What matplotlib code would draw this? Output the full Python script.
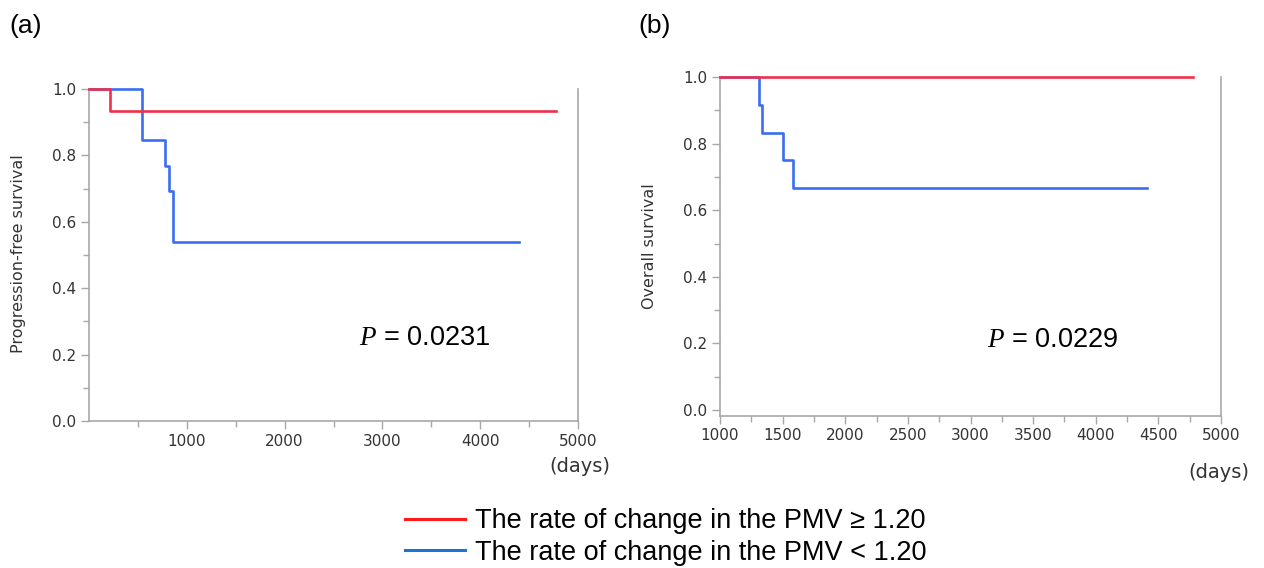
import matplotlib
matplotlib.use("Agg")
import matplotlib.pyplot as plt
from matplotlib.lines import Line2D
from matplotlib.ticker import MultipleLocator, FixedLocator

# ---- data ----
pfs_high_days = [0, 215, 4780]
pfs_high_surv = [1.0, 0.933, 0.933]
pfs_low_days = [0, 545, 779, 819, 855, 4400]
pfs_low_surv = [1.0, 0.846, 0.769, 0.692, 0.538, 0.538]

os_high_days = [1000, 4780]
os_high_surv = [1.0, 1.0]
os_low_days = [1000, 1310, 1332, 1503, 1581, 4406]
os_low_surv = [1.0, 0.917, 0.833, 0.75, 0.667, 0.667]

legend_labels = ["The rate of change in the PMV \u2265 1.20",
                 "The rate of change in the PMV < 1.20"]
p_texts = ["0.0231", "0.0229"]
ylabels = ["Progression-free survival", "Overall survival"]
panel_tags = ["(a)", "(b)"]

plt.rcParams['font.family'] = ['DejaVu Sans']
plt.rcParams['mathtext.fontset'] = 'custom'
plt.rcParams['mathtext.it'] = 'Liberation Serif:italic'

RED = '#ee3049'
BLUE = '#3a6ef2'
SPINE = '#a8a8a8'
TICKC = '#333333'

W, H = 1264, 568
fig = plt.figure(figsize=(W / 100, H / 100), dpi=100)

def frac(l, t, r, b):
    return [l / W, 1 - b / H, (r - l) / W, (b - t) / H]

axA = fig.add_axes(frac(89, 89, 578, 421))
axB = fig.add_axes(frac(720, 77, 1221, 416))

def style(ax):
    ax.spines['top'].set_visible(False)
    for s in ['left', 'bottom', 'right']:
        ax.spines[s].set_color(SPINE)
        ax.spines[s].set_linewidth(1.2)
    ax.tick_params(which='major', length=6, width=1.0, color=SPINE,
                   labelsize=11, labelcolor=TICKC, pad=3)
    ax.tick_params(which='minor', length=4, width=1.0, color=SPINE)
    ax.tick_params(axis='y', which='both', right=False)
    ax.set_yticks([0.0, 0.2, 0.4, 0.6, 0.8, 1.0])
    ax.yaxis.set_minor_locator(MultipleLocator(0.1))
    ax.set_yticklabels(['0.0', '0.2', '0.4', '0.6', '0.8', '1.0'])

# Panel (a)
axA.step(pfs_high_days, pfs_high_surv, where='post', color=RED, lw=1.9, clip_on=False, zorder=3)
axA.step(pfs_low_days, pfs_low_surv, where='post', color=BLUE, lw=1.9, clip_on=False, zorder=2)
axA.set_xlim(0, 5000)
axA.set_ylim(0, 1.0)
style(axA)
axA.set_xticks([1000, 2000, 3000, 4000, 5000])
axA.xaxis.set_minor_locator(FixedLocator([500, 1500, 2500, 3500, 4500]))

# Panel (b)
axB.step(os_high_days, os_high_surv, where='post', color=RED, lw=1.9, clip_on=False, zorder=3)
axB.step(os_low_days, os_low_surv, where='post', color=BLUE, lw=1.9, clip_on=False, zorder=2)
axB.set_xlim(1000, 5000)
axB.set_ylim(-0.018, 1.0)
style(axB)
axB.set_xticks([1000, 1500, 2000, 2500, 3000, 3500, 4000, 4500, 5000])
axB.xaxis.set_minor_locator(FixedLocator([1250, 1750, 2250, 2750, 3250, 3750, 4250, 4750]))

# y labels
fig.text(19 / W, 1 - 254 / H, ylabels[0], rotation=90, ha='center', va='center',
         fontsize=11.5, color=TICKC)
fig.text(649 / W, 1 - 246 / H, ylabels[1], rotation=90, ha='center', va='center',
         fontsize=11.5, color=TICKC)

# (days)
fig.text(580 / W, 1 - 467 / H, '(days)', ha='center', va='center', fontsize=14, color=TICKC)
fig.text(1219 / W, 1 - 472 / H, '(days)', ha='center', va='center', fontsize=14, color=TICKC)

# P values
fig.text(359 / W, 1 - 338 / H, r'$\mathit{P}$ = ' + p_texts[0], ha='left', va='center',
         fontsize=19.5, family='Liberation Sans', color='black')
fig.text(987 / W, 1 - 340 / H, r'$\mathit{P}$ = ' + p_texts[1], ha='left', va='center',
         fontsize=19.5, family='Liberation Sans', color='black')

# panel tags
fig.text(9 / W, 1 - 26 / H, panel_tags[0], ha='left', va='center', fontsize=19, family='Liberation Sans')
fig.text(638 / W, 1 - 26 / H, panel_tags[1], ha='left', va='center', fontsize=19, family='Liberation Sans')

# legend
handles = [Line2D([], [], color='#ff1a1a', lw=2.2),
           Line2D([], [], color='#1a74d0', lw=2.2)]
fig.legend(handles, legend_labels, loc='center', bbox_to_anchor=(666 / W, 1 - 537 / H),
           frameon=False, prop={'family': 'Liberation Sans', 'size': 19.5},
           handlelength=2.2, handletextpad=0.4, labelspacing=0.2, borderpad=0)

fig.savefig('out.png', dpi=100)
